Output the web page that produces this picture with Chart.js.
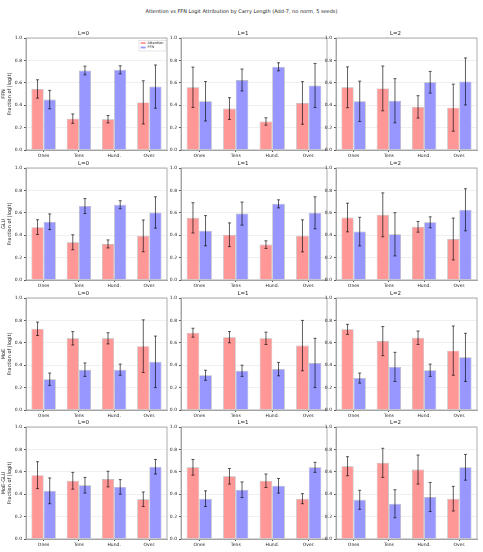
<!DOCTYPE html>
<html>
<head>
<meta charset="utf-8">
<script src="https://cdn.jsdelivr.net/npm/chart.js@4.4.1/dist/chart.umd.min.js"></script>
<style>
body { margin: 0; background: #fff; width: 483px; height: 552px; position: relative; overflow: hidden; font-family: 'DejaVu Sans', sans-serif; }
#title { position: absolute; top: 8px; left: 0; width: 483px; text-align: center; font-size: 5px; color: #222; }
canvas { position: absolute; }
</style>
</head>
<body>
<div id="title">Attention vs FFN Logit Attribution by Carry Length (Add-7, no norm, 5 seeds)</div>
<script>
// data, one row per carry length (L=0, L=1, L=2)
const categories = ['Ones', 'Tens', 'Hund.', 'Over.'];
const carryLengths = ['L=0', 'L=1', 'L=2'];
const models = ['FFN', 'GLU', 'MoE', 'MoE-GLU'];

const ffnAttn    = [[0.545, 0.28, 0.275, 0.425], [0.56, 0.37, 0.255, 0.42], [0.56, 0.55, 0.385, 0.378]];
const ffnAttnErr = [[0.082, 0.042, 0.033, 0.193], [0.18, 0.097, 0.033, 0.19], [0.182, 0.2, 0.1, 0.21]];
const ffnFfn     = [[0.45, 0.71, 0.716, 0.566], [0.435, 0.625, 0.743, 0.576], [0.435, 0.44, 0.605, 0.612]];
const ffnFfnErr  = [[0.082, 0.039, 0.036, 0.193], [0.176, 0.098, 0.036, 0.197], [0.18, 0.197, 0.097, 0.21]];

const gluAttn    = [[0.472, 0.337, 0.322, 0.394], [0.555, 0.404, 0.316, 0.394], [0.558, 0.582, 0.475, 0.366]];
const gluAttnErr = [[0.066, 0.067, 0.036, 0.142], [0.135, 0.106, 0.034, 0.143], [0.128, 0.196, 0.048, 0.187]];
const gluFfn     = [[0.52, 0.66, 0.672, 0.603], [0.44, 0.593, 0.68, 0.6], [0.432, 0.408, 0.515, 0.627]];
const gluFfnErr  = [[0.07, 0.067, 0.036, 0.14], [0.135, 0.103, 0.036, 0.143], [0.128, 0.193, 0.049, 0.188]];

const moeAttn    = [[0.725, 0.64, 0.64, 0.57], [0.69, 0.65, 0.64, 0.575], [0.72, 0.615, 0.645, 0.53]];
const moeAttnErr = [[0.06, 0.06, 0.05, 0.235], [0.04, 0.05, 0.055, 0.225], [0.045, 0.13, 0.06, 0.22]];
const moeFfn     = [[0.275, 0.36, 0.36, 0.43], [0.31, 0.35, 0.365, 0.42], [0.285, 0.385, 0.355, 0.47]];
const moeFfnErr  = [[0.055, 0.06, 0.05, 0.23], [0.045, 0.05, 0.06, 0.22], [0.045, 0.13, 0.055, 0.215]];

const moeGluAttn    = [[0.57, 0.52, 0.535, 0.355], [0.64, 0.56, 0.52, 0.36], [0.65, 0.68, 0.62, 0.36]];
const moeGluAttnErr = [[0.12, 0.075, 0.07, 0.065], [0.07, 0.07, 0.06, 0.045], [0.085, 0.13, 0.13, 0.11]];
const moeGluFfn     = [[0.43, 0.48, 0.465, 0.645], [0.36, 0.44, 0.475, 0.64], [0.35, 0.315, 0.375, 0.64]];
const moeGluFfnErr  = [[0.115, 0.07, 0.065, 0.065], [0.07, 0.07, 0.065, 0.045], [0.085, 0.125, 0.13, 0.115]];

const yTicks = [0, 0.2, 0.4, 0.6, 0.8, 1.0];

const modelData = [
    [ffnAttn, ffnAttnErr, ffnFfn, ffnFfnErr],
    [gluAttn, gluAttnErr, gluFfn, gluFfnErr],
    [moeAttn, moeAttnErr, moeFfn, moeFfnErr],
    [moeGluAttn, moeGluAttnErr, moeGluFfn, moeGluFfnErr],
];

const attnColor = 'rgb(255, 151, 151)';
const ffnColor = 'rgb(151, 151, 255)';

const colLeft = [26, 180.5, 335.5];
const colRight = [166.5, 326, 476.5];
const rowTop = [37.7, 167.7, 297.7, 427.3];
const rowBottom = [149.3, 279.3, 409.3, 539];

const errorBars = {
    id: 'errorBars',
    afterDatasetsDraw(chart) {
        const y = chart.scales.y;
        const ctx = chart.ctx;
        ctx.save();
        ctx.strokeStyle = 'rgba(0,0,0,0.7)';
        ctx.lineWidth = 0.9;
        chart.data.datasets.forEach((ds, i) => {
            chart.getDatasetMeta(i).data.forEach((bar, j) => {
                const top = y.getPixelForValue(ds.data[j] + ds.errors[j]);
                const bot = y.getPixelForValue(ds.data[j] - ds.errors[j]);
                ctx.beginPath();
                ctx.moveTo(bar.x, top); ctx.lineTo(bar.x, bot);
                ctx.moveTo(bar.x - 1.5, top); ctx.lineTo(bar.x + 1.5, top);
                ctx.moveTo(bar.x - 1.5, bot); ctx.lineTo(bar.x + 1.5, bot);
                ctx.stroke();
            });
        });
        ctx.restore();
    }
};

const frame = {
    id: 'frame',
    afterDraw(chart) {
        const a = chart.chartArea;
        const ctx = chart.ctx;
        ctx.save();
        ctx.strokeStyle = '#999';
        ctx.lineWidth = 0.8;
        ctx.strokeRect(a.left, a.top, a.right - a.left, a.bottom - a.top);
        ctx.restore();
    }
};

const smallLegend = {
    id: 'smallLegend',
    afterDraw(chart, args, opts) {
        if (!opts.show) return;
        const a = chart.chartArea;
        const ctx = chart.ctx;
        const x0 = a.right - 28, y0 = a.top + 2.3;
        ctx.save();
        ctx.fillStyle = 'rgba(255,255,255,0.8)';
        ctx.strokeStyle = '#ccc';
        ctx.lineWidth = 0.5;
        ctx.fillRect(x0, y0, 27, 10.7);
        ctx.strokeRect(x0, y0, 27, 10.7);
        ctx.font = '3.5px "DejaVu Sans"';
        ctx.textBaseline = 'middle';
        chart.data.datasets.forEach((ds, i) => {
            const yy = y0 + 2.7 + i * 4.5;
            ctx.fillStyle = ds.backgroundColor;
            ctx.fillRect(x0 + 1.7, yy - 0.9, 5, 1.8);
            ctx.fillStyle = '#222';
            ctx.fillText(ds.label, x0 + 8.4, yy);
        });
        ctx.restore();
    }
};

models.forEach((model, r) => {
    const [attn, attnErr, ffn, ffnErr] = modelData[r];
    carryLengths.forEach((lbl, c) => {
        const axisW = c === 0 ? 26 : 22;
        const plotW = colRight[c] - colLeft[c];
        const plotH = rowBottom[r] - rowTop[r];
        const canvas = document.createElement('canvas');
        const w = Math.round(axisW + plotW + 3);
        const h = Math.round(plotH + 20);
        canvas.width = w; canvas.height = h;
        canvas.style.left = (colLeft[c] - axisW) + 'px';
        canvas.style.top = (rowTop[r] - 10) + 'px';
        canvas.style.width = w + 'px';
        canvas.style.height = h + 'px';
        document.body.appendChild(canvas);

        new Chart(canvas, {
            type: 'bar',
            data: {
                labels: categories,
                datasets: [
                    { label: 'Attention', data: attn[c], errors: attnErr[c], backgroundColor: attnColor,
                      borderColor: 'rgba(120,120,120,0.55)', borderWidth: 0.7 },
                    { label: 'FFN', data: ffn[c], errors: ffnErr[c], backgroundColor: ffnColor,
                      borderColor: 'rgba(120,120,120,0.55)', borderWidth: 0.7 },
                ]
            },
            options: {
                responsive: false,
                animation: false,
                devicePixelRatio: 1,
                layout: { padding: { left: 0, right: 3, top: 0, bottom: 0 } },
                datasets: { bar: { categoryPercentage: 0.69, barPercentage: 1.0 } },
                plugins: {
                    legend: { display: false },
                    tooltip: { enabled: false },
                    title: {
                        display: true,
                        text: lbl,
                        color: '#222',
                        font: { size: 5.5, family: "'DejaVu Sans'", weight: 'normal' },
                        padding: { top: 2.7, bottom: 0.7 }
                    },
                    smallLegend: { show: r === 0 && c === 0 }
                },
                scales: {
                    x: {
                        offset: true,
                        afterFit: (s) => { s.height = 10; },
                        grid: { drawOnChartArea: false, offset: false, tickLength: 2, tickColor: '#555' },
                        border: { color: '#999', width: 0.8 },
                        ticks: { color: '#222', padding: 1, maxRotation: 0, font: { size: 4.5, family: "'DejaVu Sans'" } }
                    },
                    y: {
                        min: 0,
                        max: 1,
                        afterFit: (s) => { s.width = axisW; },
                        afterBuildTicks: (s) => { s.ticks = yTicks.map(v => ({ value: v })); },
                        grid: { color: 'rgba(0,0,0,0.06)', tickLength: 2, tickColor: '#555' },
                        border: { color: '#999', width: 0.8 },
                        ticks: {
                            color: '#222', padding: 2,
                            font: { size: 4.5, family: "'DejaVu Sans'" },
                            callback: (v) => Number(v).toFixed(1)
                        },
                        title: {
                            display: c === 0,
                            text: [model, 'Fraction of |logit|'],
                            color: '#222',
                            font: { size: 5, family: "'DejaVu Sans'" },
                            padding: { top: 1, bottom: 0 }
                        }
                    }
                }
            },
            plugins: [errorBars, frame, smallLegend]
        });
    });
});
</script>
</body>
</html>
